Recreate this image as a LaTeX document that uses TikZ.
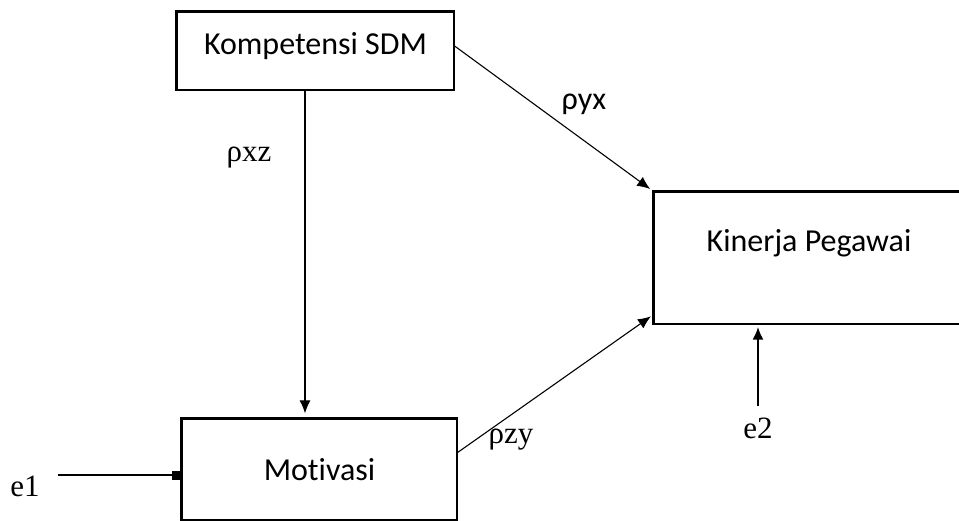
\documentclass[tikz,border=0pt]{standalone}
\usepackage{fontspec}
\setmainfont[Ligatures=NoCommon]{Carlito}
\newfontfamily\timesfont{Liberation Serif}
\usetikzlibrary{arrows.meta}

\begin{document}
\begin{tikzpicture}[x=1pt, y=-1pt,
  varbox/.style={rectangle, draw, line width=1.2pt, inner sep=0pt, font=\fontsize{32}{38}\selectfont},
  boxedge/.style={line width=2.8pt},
  boxtext/.style={font=\fontsize{32}{38}\selectfont},
  coef/.style={font=\timesfont\fontsize{31}{36}\selectfont},
  arrowline/.style={-{Latex[length=13pt,width=11pt]}, line width=1.1pt},
  errline/.style={line width=2.8pt}]
\useasboundingbox (0,0) rectangle (959,521);
\clip (0,0) rectangle (959,521);

% variables
\node (kompetensi) [varbox, minimum width=277pt, minimum height=78pt,
  label={[boxtext, yshift=5pt]center:Kompetensi SDM}] at (315.5,51) {};
\node (kinerja) [varbox, minimum width=310pt, minimum height=132pt,
  label={[boxtext, yshift=15pt]center:Kinerja Pegawai}] at (809,258) {};
\node (motivasi) [varbox, minimum width=275pt, minimum height=101pt] at (319.5,469.5) {Motivasi};

\draw [boxedge] (kompetensi.south west) -- (kompetensi.north west) -- (kompetensi.north east);
\draw [boxedge] (kinerja.south west) -- (kinerja.north west) -- (kinerja.north east);
\draw [boxedge] (motivasi.south west) -- (motivasi.north west) -- (motivasi.north east);

% errors
\node (e1) [coef] at (25,486) {e1};
\node (e2) [coef] at (758,428) {e2};

% paths
\coordinate (xzline) at (305,0);
\draw [arrowline, shorten >=5pt] (kompetensi.south -| xzline) -- (motivasi.north -| xzline);
\draw [arrowline, shorten >=4pt] ([yshift=5pt]kompetensi.east) -- (kinerja.north west);
\draw [arrowline, shorten >=3pt] ([yshift=17pt]motivasi.east) -- ([yshift=10pt]kinerja.south west);
\draw [errline, -{Latex[length=13pt,width=11pt]}, shorten <=8pt, shorten >=2pt] (e2.north) -- (kinerja.south -| e2);
\draw [errline, -{Square[length=9pt,width=9pt]}, shorten <=15pt] ([yshift=11pt]e1.east) -- ([yshift=11pt]e1.east -| motivasi.west);

\node (rhoxz) [coef] at (249,158) {ρxz};
\node (rhoyx) [boxtext] at (584,104) {ρyx};
\node (rhozy) [coef] at (511,440) {ρzy};
\end{tikzpicture}
\end{document}
